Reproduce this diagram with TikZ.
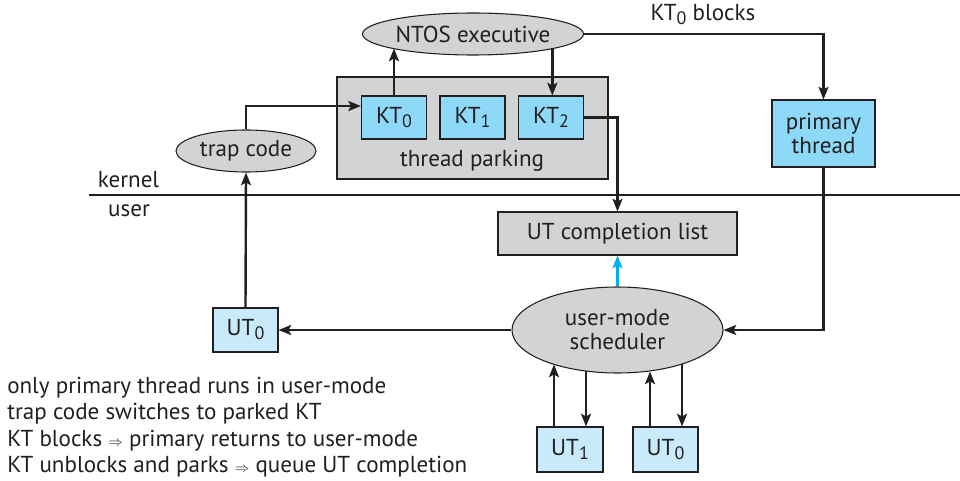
\documentclass[tikz,border=0pt]{standalone}
\usepackage{fontspec}
\setmainfont{PT Sans}
\usetikzlibrary{arrows.meta,shapes.geometric}
\newdimen\p \p=0.75pt
\definecolor{gfill}{HTML}{D1D3D4}
\definecolor{ktblue}{HTML}{8ED8F8}
\definecolor{utblue}{HTML}{C8EAFA}
\definecolor{cyanarr}{HTML}{00AEEF}
\definecolor{ink}{HTML}{231F20}
\newcommand{\lsub}[1]{\raisebox{-0.35ex}{\fontsize{13.5}{13.5}\selectfont #1}}
\newcommand{\smallimp}{{\fontsize{10.5}{10.5}\selectfont$\Rightarrow$}}
\tikzset{
  base/.style={draw=ink, line width=0.8pt, inner sep=0pt, text=ink, font=\fontsize{17.3}{19}\selectfont},
  oval/.style={base, ellipse, fill=gfill},
  graybox/.style={base, rectangle, fill=gfill},
  ktbox/.style={base, rectangle, fill=ktblue},
  utbox/.style={base, rectangle, fill=utblue},
  arr/.style={draw=ink, line width=1.8pt, -{Stealth[length=9.5pt,width=7.5pt,inset=2pt]}},
  lbl/.style={text=ink, font=\fontsize{17.3}{19}\selectfont, inner sep=0pt}
}
\begin{document}
\begin{tikzpicture}[x=0.75pt,y=-0.75pt]
\useasboundingbox (0,0) rectangle (960,481);
% kernel/user line
\draw[ink, line width=0.8pt] (89,195) -- (960,195);
\node[lbl] (kern) at (128.5,180) {kernel};
\node[lbl] (usr) at (129,211) {user};
% nodes
\node[oval, minimum width=221\p, minimum height=42\p] (ntos) at (473,34) {NTOS executive};
\node[graybox, minimum width=271\p, minimum height=102\p] (park) at (472.5,128) {};
\node[lbl] (parklbl) at (472,161) {thread parking};
\node[ktbox, minimum width=65\p, minimum height=43\p] (kt0) at (394,117.5) {KT\lsub{0}};
\node[ktbox, minimum width=65\p, minimum height=43\p] (kt1) at (472.5,117.5) {KT\lsub{1}};
\node[ktbox, minimum width=65\p, minimum height=43\p] (kt2) at (551,117.5) {KT\lsub{2}};
\node[oval, minimum width=140\p, minimum height=42\p] (trap) at (246,151) {trap code};
\node[ktbox, minimum width=103\p, minimum height=67\p, align=center] (prim) at (823.5,133.5) {primary\\[-1pt]thread};
\node[graybox, minimum width=239\p, minimum height=43\p] (utc) at (617.5,233.5) {UT completion list};
\node[oval, minimum width=211\p, minimum height=86\p, align=center] (sched) at (617.5,330) {user-mode\\[-1pt]scheduler};
\node[utbox, minimum width=65\p, minimum height=44\p] (uta) at (245.5,330) {UT\lsub{0}};
\node[utbox, minimum width=66\p, minimum height=45\p] (ut1) at (570,449.5) {UT\lsub{1}};
\node[utbox, minimum width=65\p, minimum height=45\p] (utb) at (665.5,449.5) {UT\lsub{0}};
\node[lbl] (blk) at (703,15) {KT\lsub{0} blocks};
\node[lbl, anchor=west, align=left, font=\fontsize{17.3}{19.9}\selectfont] (notes) at (7,427)
 {only primary thread runs in user-mode\\
  trap code switches to parked KT\\
  KT blocks \smallimp{} primary returns to user-mode\\
  KT unblocks and parks \smallimp{} queue UT completion};
% connectors
\draw[arr] (trap.north) |- ([yshift=8.6pt]kt0.west);
\draw[arr] (kt0.north) -- (kt0.north |- ntos.190.5);
\draw[arr] ([xshift=1pt]kt2.north |- ntos.-10.5) -- ([xshift=1pt]kt2.north);
\draw[arr] (ntos.east) -| (prim.north);
\draw[arr] (kt2.east) -| (utc.north);
\draw[arr] (prim.south) |- (sched.east);
\draw[arr, draw=cyanarr] (sched.north) -- (utc.south);
\draw[arr] (sched.west) -- (uta.east);
\draw[arr] (uta.north) -- (trap.south);
\draw[arr] ([xshift=-12pt]ut1.north) -- ([xshift=-12pt]ut1.north |- sched.208.4);
\draw[arr] ([xshift=12pt]ut1.north |- sched.232.5) -- ([xshift=12pt]ut1.north);
\draw[arr] ([xshift=-11.6pt]utb.north) -- ([xshift=-11.6pt]utb.north |- sched.308.4);
\draw[arr] ([xshift=12.4pt]utb.north |- sched.332.2) -- ([xshift=12.4pt]utb.north);
\end{tikzpicture}
\end{document}
